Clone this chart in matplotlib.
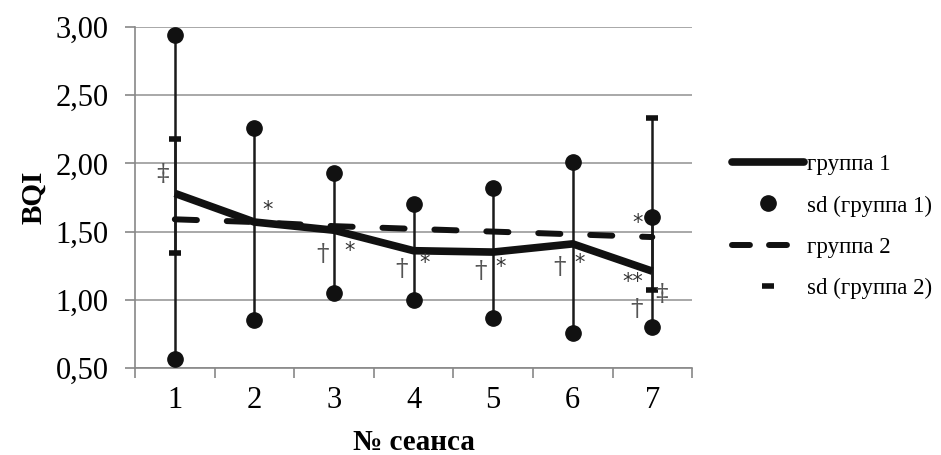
import numpy as np
import matplotlib.pyplot as plt
from matplotlib.lines import Line2D

# данные
sessions = [1, 2, 3, 4, 5, 6, 7]
g1_mean = [1.78, 1.57, 1.51, 1.36, 1.35, 1.41, 1.21]
g1_upper = [2.94, 2.26, 1.93, 1.70, 1.82, 2.01, 1.61]
g1_lower = [0.57, 0.85, 1.05, 1.00, 0.87, 0.76, 0.80]
g2_mean = [1.59, 1.57, 1.54, 1.52, 1.50, 1.48, 1.46]
g2_upper = [2.18, np.nan, np.nan, np.nan, np.nan, np.nan, 2.33]
g2_lower = [1.34, np.nan, np.nan, np.nan, np.nan, np.nan, 1.07]
y_ticks = [0.5, 1.0, 1.5, 2.0, 2.5, 3.0]

# значки значимости: (текст, x, y)
marks = [
    ('‡', 0.85, 1.92),
    ('*', 2.16, 1.66),
    ('†', 2.86, 1.33), ('*', 3.20, 1.36),
    ('†', 3.85, 1.22), ('*', 4.14, 1.27),
    ('†', 4.84, 1.21), ('*', 5.09, 1.24),
    ('†', 5.84, 1.24), ('*', 6.08, 1.27),
    ('*', 6.81, 1.56),
    ('**', 6.75, 1.13),
    ('†', 6.80, 0.93),
    ('‡', 7.11, 1.04),
]

plt.rcParams['font.family'] = ['Liberation Serif', 'DejaVu Serif']

fig = plt.figure(figsize=(9.41, 4.55), dpi=100)
ax = fig.add_axes([0.1435, 0.191, 0.592, 0.750])

# вертикальные линии sd
ax.vlines(sessions, g2_lower, g2_upper, color='#1a1a1a', lw=1.8, zorder=2)
ax.vlines(sessions, g1_lower, g1_upper, color='#1a1a1a', lw=1.8, zorder=2)

# средние значения
ax.plot(sessions, g1_mean, color='#111111', lw=5.5, solid_capstyle='butt',
        solid_joinstyle='miter', zorder=4)
ax.plot(sessions, g2_mean, color='#111111', lw=4.3, dashes=(3.7, 5.0),
        dash_capstyle='round', zorder=3)

# точки sd
ax.plot(sessions, g1_upper, 'o', color='#111111', ms=11, zorder=5)
ax.plot(sessions, g1_lower, 'o', color='#111111', ms=11, zorder=5)
ax.plot(sessions, g2_upper, '_', color='#111111', ms=9, mew=4, zorder=5)
ax.plot(sessions, g2_lower, '_', color='#111111', ms=9, mew=4, zorder=5)

for txt, x, y in marks:
    if txt.startswith('*'):
        ax.text(x, y, txt, ha='center', va='center', fontsize=15,
                color='#333333', family=['DejaVu Sans'], zorder=6)
    else:
        ax.text(x, y, txt, ha='center', va='center', fontsize=18,
                color='#555555', family=['DejaVu Serif'], zorder=6)

ax.set_xlim(0.5, 7.5)
ax.set_ylim(0.5, 3.0)
ax.set_xticks(sessions)
ax.set_xticks(np.arange(0.5, 8.0, 1.0), minor=True)
ax.set_yticks(y_ticks)
ax.set_yticklabels([f'{v:.2f}'.replace('.', ',') for v in y_ticks])
ax.tick_params(axis='x', which='major', length=0, pad=13, labelsize=22)
ax.tick_params(axis='x', which='minor', length=7, color='#888888', width=1.2)
ax.tick_params(axis='y', length=7, color='#888888', width=1.2, labelsize=22, pad=12)
ax.grid(axis='y', color='#999999', lw=1.2)
ax.set_axisbelow(True)
for s in ['top', 'right']:
    ax.spines[s].set_visible(False)
for s in ['left', 'bottom']:
    ax.spines[s].set_color('#888888')
    ax.spines[s].set_linewidth(1.2)

ax.set_ylabel('BQI', fontsize=21, fontweight='bold', labelpad=6)
ax.set_xlabel('№ сеанса', fontsize=21, fontweight='bold', labelpad=10)

handles = [
    Line2D([], [], color='#111111', lw=5.5, solid_capstyle='round'),
    Line2D([], [], color='#111111', ls='none', marker='o', ms=11),
    Line2D([], [], color='#111111', lw=4.3, dashes=(3.0, 3.2), dash_capstyle='round'),
    Line2D([], [], color='#111111', ls='none', marker='_', ms=9, mew=4),
]
labels = ['группа 1', 'sd (группа 1)', 'группа 2', 'sd (группа 2)']
fig.legend(handles, labels, loc='center left', bbox_to_anchor=(0.756, 0.502),
           frameon=False, fontsize=16.5, handlelength=3.15, handletextpad=0.1,
           labelspacing=0.88)

fig.savefig('out.png', dpi=100)
